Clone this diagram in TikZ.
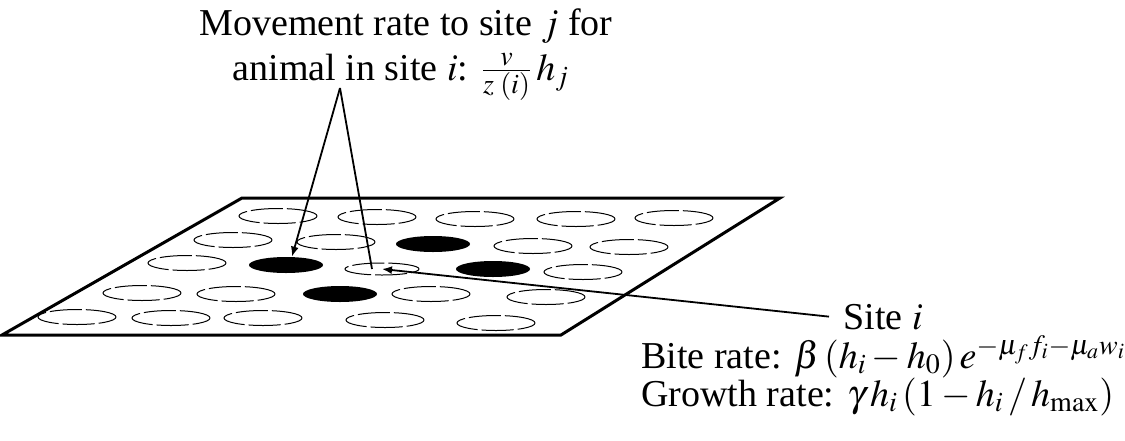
\documentclass[tikz,border=0pt]{standalone}
\usepackage{mathptmx}
\usepackage{fontspec}
\setmainfont{Liberation Serif}
\DeclareMathSizes{19}{19}{14}{11}
\usetikzlibrary{shapes.geometric,arrows.meta}
\begin{document}
\begin{tikzpicture}[x=0.5pt,y=-0.5pt,
  site/.style={ellipse,draw,line width=0.5pt,dash pattern=on 16pt off 2pt,minimum width=39pt,minimum height=7.5pt,inner sep=0pt},
  occ/.style={ellipse,fill=black,minimum width=37pt,minimum height=8pt,inner sep=0pt},
  lbl/.style={font=\fontsize{19}{23}\selectfont,inner sep=0pt},
  conn/.style={line width=0.9pt},
  arr/.style={conn,-{Latex[length=5pt,width=4pt]}},
  plane/.style={line width=1.5pt,line join=miter}]
\useasboundingbox (0,0) rectangle (1125,440);
% plane
\draw[plane] (242,198) -- (780,198) -- (561,335) -- (2,335) -- cycle;
% row 1
\node[site] (e11) at (278,216) {};
\node[site] (e12) at (377,217) {};
\node[site] (e13) at (475,219) {};
\node[site] (e14) at (576,219) {};
\node[site] (e15) at (674,218) {};
% row 2
\node[site] (e21) at (233,240) {};
\node[site] (e22) at (336,242) {};
\node[occ]  (e23) at (433,244) {};
\node[site] (e24) at (533,246) {};
\node[site] (e25) at (629,247) {};
% row 3
\node[site] (e31) at (187,263) {};
\node[occ]  (e32) at (286,265) {};
\node[site,minimum width=37pt,minimum height=6pt] (e33) at (382,269) {};
\node[occ]  (e34) at (493,269) {};
\node[site] (e35) at (583,272) {};
% row 4
\node[site] (e41) at (142,293) {};
\node[site] (e42) at (236,294) {};
\node[occ]  (e43) at (340,294) {};
\node[site] (e44) at (431,294) {};
\node[site] (e45) at (546,297) {};
% row 5
\node[site] (e51) at (77,317) {};
\node[site] (e52) at (171,318) {};
\node[site] (e53) at (263,318) {};
\node[site] (e54) at (385,320) {};
\node[site] (e55) at (496,323) {};
% labels
\node[lbl,anchor=base] (mv1) at (406,35) {Movement rate to site $j$ for};
\node[lbl,anchor=base] (mv2) at (401,80) {animal in site $i$: $\frac{v}{z\;(i)}\,h_j$};
\coordinate (apex) at (340,88);
\node[lbl,anchor=base west] (site) at (843,329) {Site $i$};
\node[lbl,anchor=base west] (bite) at (641,368) {Bite rate: $\beta\,(h_i - h_0)\,e^{-\mu_f f_i - \mu_a w_i}$};
\node[lbl,anchor=base west] (growth) at (641,406) {Growth rate: $\gamma\,h_i\,(1 - h_i\,/\,h_{\max})$};
% connectors
\draw[arr] (apex) -- ([xshift=3pt]e32.north);
\draw[conn] (apex) -- ([xshift=-5pt]e33.center);
\draw[arr] ([xshift=-7pt]site.west) -- (e33.center);
\end{tikzpicture}
\end{document}
